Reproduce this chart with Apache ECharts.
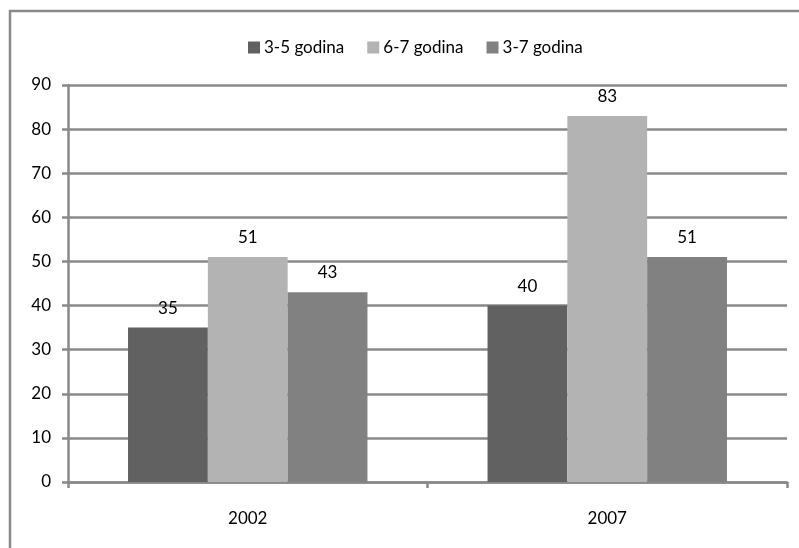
<!DOCTYPE html>
<html>
<head>
<meta charset="utf-8">
<script src="https://cdn.jsdelivr.net/npm/echarts@6/dist/echarts.min.js"></script>
<style>
  html, body { margin: 0; padding: 0; background: #fff; }
  #chart { width: 799px; height: 548px; }
</style>
</head>
<body>
<div id="chart"></div>
<script>
// Years on the category axis
const years = ['2002', '2007'];
// Age-group series values
const age35 = [35, 40];
const age67 = [51, 83];
const age37 = [43, 51];
// Series names shown in the legend
const seriesNames = ['3-5 godina', '6-7 godina', '3-7 godina'];

const FONT = 'Lato, "Open Sans", sans-serif';
const GRID_COLOR = '#898989';

const chart = echarts.init(document.getElementById('chart'));

function bar(name, data, color) {
  return {
    name: name,
    type: 'bar',
    data: data,
    barGap: '0%',
    barCategoryGap: '33.4%',
    itemStyle: { color: color },
    label: {
      show: true,
      position: 'top',
      distance: 11,
      color: '#000',
      fontFamily: FONT,
      fontSize: 17
    }
  };
}

chart.setOption({
  animation: false,
  graphic: [{
    type: 'rect',
    shape: { x: 10, y: 11, width: 800, height: 560 },
    style: { fill: 'none', stroke: '#8a8a8a', lineWidth: 2.5 },
    silent: true
  }],
  legend: {
    top: 34,
    left: 243,
    itemWidth: 12,
    itemHeight: 12,
    itemGap: 23,
    icon: 'rect',
    textStyle: { fontFamily: FONT, fontSize: 17, color: '#000', padding: [0, 0, 0, -1] },
    data: seriesNames
  },
  grid: { left: 68, right: 12, top: 85, bottom: 66 },
  xAxis: {
    type: 'category',
    data: years,
    axisLine: { lineStyle: { color: GRID_COLOR, width: 2.5 } },
    axisTick: { show: true, length: 6, lineStyle: { color: GRID_COLOR, width: 2.5 } },
    axisLabel: { fontFamily: FONT, fontSize: 17, color: '#000', margin: 28 }
  },
  yAxis: {
    type: 'value',
    min: 0,
    max: 90,
    interval: 10,
    axisLine: { show: true, lineStyle: { color: GRID_COLOR, width: 2.5 } },
    axisTick: { show: true, length: 6, lineStyle: { color: GRID_COLOR, width: 2.5 } },
    splitLine: { show: true, lineStyle: { color: GRID_COLOR, width: 2.5 } },
    axisLabel: { fontFamily: FONT, fontSize: 17, color: '#000', margin: 17 }
  },
  series: [
    bar(seriesNames[0], age35, '#616161'),
    bar(seriesNames[1], age67, '#b3b3b3'),
    bar(seriesNames[2], age37, '#818181')
  ]
});
</script>
</body>
</html>
